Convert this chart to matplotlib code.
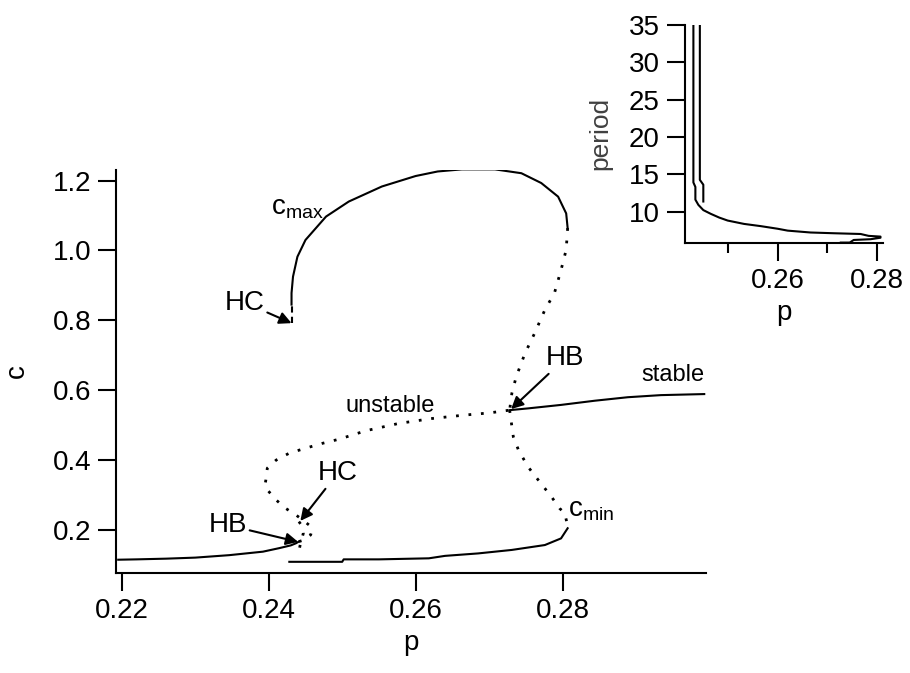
import matplotlib
matplotlib.use('Agg')
import matplotlib.pyplot as plt
import numpy as np

plt.rcParams['font.family'] = ['Liberation Sans', 'DejaVu Sans']
plt.rcParams['mathtext.fontset'] = 'custom'
plt.rcParams['mathtext.rm'] = 'Liberation Sans'
plt.rcParams['mathtext.it'] = 'Liberation Sans'

# stable steady state, low branch (up to the first Hopf point)
p_low = [0.2195, 0.222, 0.226, 0.230, 0.2346, 0.2392, 0.2414, 0.2430, 0.2437, 0.2441]
c_low = [0.115, 0.116, 0.118, 0.121, 0.128, 0.138, 0.148, 0.156, 0.162, 0.167]

# unstable steady state (S-shaped, between the two Hopf points)
p_uss = [0.2441, 0.2449, 0.2457, 0.2459, 0.2455, 0.2446, 0.2437, 0.2423, 0.2410, 0.2398,
         0.2395, 0.2396, 0.2398, 0.2410, 0.2428, 0.2450, 0.2473, 0.2496, 0.2532, 0.2577,
         0.2622, 0.2667, 0.2700, 0.2728]
c_uss = [0.167, 0.172, 0.186, 0.200, 0.214, 0.229, 0.243, 0.262, 0.286, 0.315,
         0.330, 0.343, 0.377, 0.400, 0.420, 0.434, 0.448, 0.460, 0.484, 0.505,
         0.519, 0.529, 0.535, 0.543]

# stable steady state, high branch
p_high = [0.2728, 0.2753, 0.2798, 0.2844, 0.2889, 0.2934, 0.2993]
c_high = [0.543, 0.548, 0.558, 0.570, 0.580, 0.586, 0.589]

# periodic orbit, c_max (stable part from the homoclinic point)
p_max = [0.2431, 0.2431, 0.2433, 0.2439, 0.2450, 0.2478, 0.2509, 0.2554, 0.2600, 0.2630,
         0.2663, 0.2708, 0.2744, 0.2771, 0.2794, 0.2805, 0.2807]
c_max = [0.845, 0.878, 0.925, 0.982, 1.030, 1.097, 1.140, 1.183, 1.213, 1.226,
         1.232, 1.232, 1.221, 1.193, 1.154, 1.106, 1.064]
# short broken part just above HC
p_max_hc = [0.2431, 0.2431]
c_max_hc = [0.792, 0.845]

# periodic orbit, c_max (unstable part down to HB)
p_max_u = [0.2807, 0.2805, 0.2798, 0.2789, 0.2776, 0.2762, 0.2749, 0.2737, 0.2731, 0.2728]
c_max_u = [1.064, 1.002, 0.944, 0.878, 0.830, 0.763, 0.706, 0.639, 0.591, 0.543]

# periodic orbit, c_min (unstable part from HB)
p_min_u = [0.2728, 0.2733, 0.2740, 0.2753, 0.2767, 0.2785, 0.2796, 0.2803, 0.2807]
c_min_u = [0.543, 0.467, 0.429, 0.381, 0.343, 0.295, 0.262, 0.248, 0.212]

# periodic orbit, c_min (stable part)
p_min = [0.2428, 0.2500, 0.2502, 0.2550, 0.2618, 0.2640, 0.2685, 0.2731, 0.2776, 0.2798, 0.2807]
c_min = [0.109, 0.109, 0.116, 0.116, 0.119, 0.126, 0.133, 0.143, 0.157, 0.176, 0.205]

# small unstable orbit between HB and HC
p_small = [0.2441, 0.2446, 0.2447, 0.2443, 0.2441]
c_small = [0.224, 0.210, 0.190, 0.160, 0.138]

# period of the orbits (inset)
p_per1 = [0.2430, 0.2430, 0.2434, 0.2434, 0.2440, 0.2450, 0.2465, 0.2482, 0.2499, 0.2532,
          0.2566, 0.2600, 0.2620, 0.2666, 0.2713, 0.2767, 0.2783, 0.2807, 0.2807, 0.2787,
          0.2753, 0.2745, 0.2727]
per1 = [35, 13.9, 13.3, 11.6, 10.9, 10.2, 9.7, 9.2, 8.8, 8.35,
        8.05, 7.7, 7.45, 7.2, 7.1, 7.0, 6.75, 6.65, 6.5, 6.3,
        6.2, 5.85, 5.85]
p_per2 = [0.2443, 0.2443, 0.2450, 0.2450]
per2 = [35, 14.25, 13.6, 11.35]

lw = 1.5
dots = (0, (1, 3.5))
fs = 20

fig = plt.figure(figsize=(9.1, 6.73), dpi=100)
ax = fig.add_axes([0.1275, 0.1486, 0.648, 0.599])

ax.plot(p_low, c_low, 'k-', lw=lw)
ax.plot(p_high, c_high, 'k-', lw=lw)
ax.plot(p_max, c_max, 'k-', lw=lw)
ax.plot(p_min, c_min, 'k-', lw=lw)
ax.plot(p_max_hc, c_max_hc, 'k', lw=lw, linestyle=(0, (3, 2)))
ax.plot(p_uss, c_uss, 'k', lw=2, linestyle=dots)
ax.plot(p_max_u, c_max_u, 'k', lw=2, linestyle=dots)
ax.plot(p_min_u, c_min_u, 'k', lw=2, linestyle=dots)
ax.plot(p_small, c_small, 'k', lw=2, linestyle=dots)

ax.set_xlim(0.2192, 0.2995)
ax.set_ylim(0.077, 1.2306)
ax.set_xticks([0.22, 0.24, 0.26, 0.28])
ax.set_yticks([0.2, 0.4, 0.6, 0.8, 1.0, 1.2])
ax.set_xticklabels(['0.22', '0.24', '0.26', '0.28'])
ax.set_yticklabels(['0.2', '0.4', '0.6', '0.8', '1.0', '1.2'])
for s in ['top', 'right']:
    ax.spines[s].set_visible(False)
for s in ['left', 'bottom']:
    ax.spines[s].set_linewidth(1.5)
ax.tick_params(direction='out', length=13, width=1.5, labelsize=fs, pad=5)
ax.set_xlabel('p', fontsize=fs, labelpad=4)
ax.set_ylabel('c', fontsize=fs, labelpad=16)

arr = dict(arrowstyle='-|>', color='k', lw=1.5, mutation_scale=18, shrinkA=0, shrinkB=0)
ax.text(0.2403, 1.102, r'c$_{\mathrm{max}}$', fontsize=fs, ha='left', va='baseline')
ax.text(0.2808, 0.238, r'c$_{\mathrm{min}}$', fontsize=fs, ha='left', va='baseline')
ax.annotate('HC', xy=(0.2431, 0.792), xytext=(0.2367, 0.851), fontsize=fs,
            ha='center', va='center', arrowprops=arr)
ax.annotate('HC', xy=(0.2443, 0.226), xytext=(0.2494, 0.363), fontsize=fs,
            ha='center', va='center', arrowprops=arr)
ax.annotate('HB', xy=(0.2440, 0.166), xytext=(0.2344, 0.214), fontsize=fs,
            ha='center', va='center', arrowprops=arr)
ax.annotate('HB', xy=(0.2730, 0.546), xytext=(0.2804, 0.692), fontsize=fs,
            ha='center', va='center', arrowprops=arr)
ax.text(0.2566, 0.555, 'unstable', fontsize=17, ha='center', va='center')
ax.text(0.2951, 0.645, 'stable', fontsize=17, ha='center', va='center')

# inset: period vs p
ins = fig.add_axes([0.7527, 0.639, 0.2176, 0.324])
ins.plot(p_per1, per1, 'k-', lw=lw)
ins.plot(p_per2, per2, 'k-', lw=lw)
ins.set_xlim(0.2413, 0.2812)
ins.set_ylim(5.8, 35)
ins.set_xticks([0.26, 0.28])
ins.set_xticklabels(['0.26', '0.28'])
ins.set_xticks([0.25, 0.27], minor=True)
ins.set_yticks([10, 15, 20, 25, 30, 35])
for s in ['top', 'right']:
    ins.spines[s].set_visible(False)
for s in ['left', 'bottom']:
    ins.spines[s].set_linewidth(1.5)
ins.tick_params(direction='out', length=13, width=1.5, labelsize=fs, pad=5)
ins.tick_params(which='minor', direction='out', length=7, width=1.5)
ins.set_xlabel('p', fontsize=fs, labelpad=4)
ins.set_ylabel('period', fontsize=19, labelpad=12, color='0.25')

fig.savefig('out.png', dpi=100)
